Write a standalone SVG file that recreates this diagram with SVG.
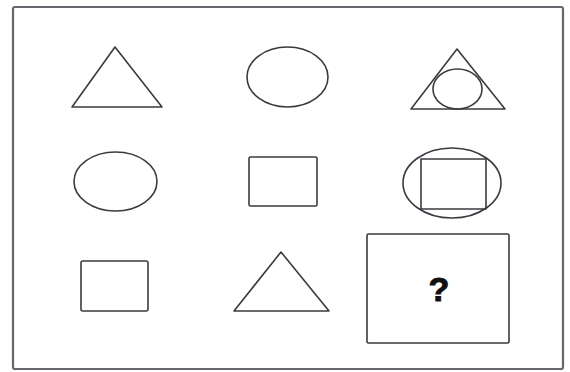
<svg xmlns="http://www.w3.org/2000/svg" width="570" height="372" viewBox="0 0 570 372">
<style>
.s{fill:none;stroke:#3a3a40;stroke-width:1.6;stroke-linejoin:round}
.f{fill:none;stroke:#66666c;stroke-width:2.2}
.q{font-family:"Liberation Sans",Arial,sans-serif;font-weight:bold;font-size:34px;fill:#111;stroke:#111;stroke-width:1}
</style>
<rect width="570" height="372" fill="#fff"/>
<g id="frame"><rect class="f" x="13" y="7" width="550" height="362" rx="2"/></g>
<g id="r1c1"><polygon class="s" points="115,47 72,107 162,107"/></g>
<g id="r1c2"><ellipse class="s" cx="287.5" cy="77" rx="40.5" ry="30"/></g>
<g id="r1c3"><polygon class="s" points="457,49 411,109 505,109"/><ellipse class="s" cx="457.5" cy="89" rx="24.5" ry="20"/></g>
<g id="r2c1"><ellipse class="s" cx="115.5" cy="181.5" rx="41.5" ry="29.5"/></g>
<g id="r2c2"><rect class="s" x="249" y="157" width="68" height="49" rx="1.5"/></g>
<g id="r2c3"><ellipse class="s" cx="452" cy="183" rx="49" ry="35"/><rect class="s" x="421" y="159" width="65" height="50"/></g>
<g id="r3c1"><rect class="s" x="81" y="261" width="67" height="50" rx="2"/></g>
<g id="r3c2"><polygon class="s" points="281,252 234,311 329,311"/></g>
<g id="r3c3"><rect class="s" x="367" y="234" width="142" height="109" rx="1.5"/><text class="q" x="439" y="301" text-anchor="middle">?</text></g>
<g id="connectors"/>
</svg>
